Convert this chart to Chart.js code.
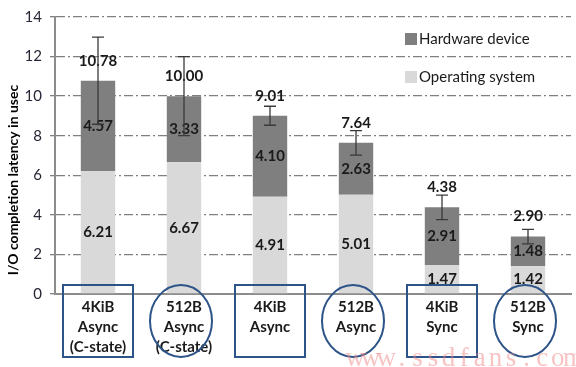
<!DOCTYPE html>
<html>
<head>
<meta charset="utf-8">
<script src="https://cdn.jsdelivr.net/npm/chart.js@4.4.0/dist/chart.umd.min.js"></script>
<style>
  html, body { margin: 0; padding: 0; background: #fff; }
  canvas { display: block; }
</style>
</head>
<body>
<canvas id="latencyChart" width="576" height="367"></canvas>
<script>
// Data
const categories = [
    ['4KiB', 'Async', '(C-state)'],
    ['512B', 'Async', '(C-state)'],
    ['4KiB', 'Async'],
    ['512B', 'Async'],
    ['4KiB', 'Sync'],
    ['512B', 'Sync']
];
const osValues = [6.21, 6.67, 4.91, 5.01, 1.47, 1.42];
const hwValues = [4.57, 3.33, 4.10, 2.63, 2.91, 1.48];
const totals = [10.78, 10.00, 9.01, 7.64, 4.38, 2.90];
const errors = [2.2, 2.0, 0.48, 0.62, 0.62, 0.37];
const yTicks = [0, 2, 4, 6, 8, 10, 12, 14];

const OS_COLOR = '#d9d9d9';
const HW_COLOR = '#7f7f7f';
const TEXT = '#1a1a1a';
const FRAME = '#2c5489';

// Value labels + error bars
const barExtras = {
    id: 'barExtras',
    afterDatasetsDraw(chart) {
        const ctx = chart.ctx;
        const y = chart.scales.y;
        ctx.save();
        ctx.font = 'bold 15px Lato';
        ctx.fillStyle = TEXT;
        ctx.textAlign = 'center';
        ctx.textBaseline = 'middle';
        chart.data.datasets.forEach((ds, di) => {
            chart.getDatasetMeta(di).data.forEach((bar, i) => {
                ctx.fillText(ds.data[i].toFixed(2), bar.x, (bar.y + bar.base) / 2);
            });
        });
        const top = chart.getDatasetMeta(1).data;
        top.forEach((bar, i) => {
            ctx.fillText(totals[i].toFixed(2), bar.x, y.getPixelForValue(totals[i]) - 20);
        });
        // error bars
        ctx.strokeStyle = '#3a3a3a';
        ctx.lineWidth = 1.3;
        top.forEach((bar, i) => {
            const y1 = y.getPixelForValue(totals[i] + errors[i]);
            const y2 = y.getPixelForValue(totals[i] - errors[i]);
            ctx.beginPath();
            ctx.moveTo(bar.x, y1); ctx.lineTo(bar.x, y2);
            ctx.moveTo(bar.x - 6, y1); ctx.lineTo(bar.x + 6, y1);
            ctx.moveTo(bar.x - 6, y2); ctx.lineTo(bar.x + 6, y2);
            ctx.stroke();
        });
        ctx.restore();
    }
};

// Axis title, legend, label frames, watermark
const decorations = {
    id: 'decorations',
    afterDraw(chart) {
        const ctx = chart.ctx;
        const x = chart.scales.x;
        const area = chart.chartArea;
        ctx.save();

        // y title
        ctx.save();
        ctx.translate(13, 180);
        ctx.rotate(-Math.PI / 2);
        ctx.font = 'bold 14px Lato';
        ctx.fillStyle = '#000';
        ctx.textAlign = 'center';
        ctx.textBaseline = 'middle';
        ctx.fillText('I/O completion latency in usec', 0, 0);
        ctx.restore();

        // legend (Hardware on top)
        ctx.font = '15px Lato';
        ctx.textAlign = 'left';
        ctx.textBaseline = 'middle';
        const legendItems = [chart.data.datasets[1], chart.data.datasets[0]];
        legendItems.forEach((ds, k) => {
            const ly = 39 + k * 38;
            ctx.fillStyle = ds.backgroundColor;
            ctx.fillRect(405, ly - 6, 12, 12);
            ctx.fillStyle = TEXT;
            ctx.fillText(ds.label, 419, ly);
        });

        // frames around category labels
        ctx.strokeStyle = FRAME;
        ctx.lineWidth = 2;
        categories.forEach((cat, i) => {
            const cx = x.getPixelForValue(i);
            ctx.beginPath();
            if (cat[0] === '4KiB') {
                ctx.rect(cx - 35, area.bottom - 9, 70, 72);
            } else {
                ctx.ellipse(cx - 3, area.bottom + 27, 31, 36, 0, 0, Math.PI * 2);
            }
            ctx.stroke();
        });

        // watermark
        ctx.fillStyle = 'rgba(240, 135, 135, 0.5)';
        ctx.font = '27px "Liberation Serif"';
        ctx.textAlign = 'center';
        ctx.textBaseline = 'alphabetic';
        const mark = 'www.ssdfans.com';
        for (let k = 0; k < mark.length; k++) {
            ctx.fillText(mark[k], 355 + k * 15.6, 366);
        }
        ctx.restore();
    }
};

const ctx = document.getElementById('latencyChart').getContext('2d');
new Chart(ctx, {
    type: 'bar',
    data: {
        labels: categories,
        datasets: [{
            label: 'Operating system',
            data: osValues,
            backgroundColor: OS_COLOR,
            barPercentage: 0.4,
            categoryPercentage: 1
        }, {
            label: 'Hardware device',
            data: hwValues,
            backgroundColor: HW_COLOR,
            barPercentage: 0.4,
            categoryPercentage: 1
        }]
    },
    options: {
        responsive: false,
        animation: false,
        layout: { padding: { top: 14, right: 5, left: 0, bottom: 0 } },
        plugins: {
            legend: { display: false },
            tooltip: { enabled: false }
        },
        scales: {
            x: {
                stacked: true,
                grid: { display: false, drawTicks: false },
                border: { display: true, color: '#8c8c8c', width: 2 },
                ticks: {
                    color: TEXT,
                    font: { family: 'Lato', size: 15, weight: 'bold', lineHeight: 1.34 },
                    padding: 3,
                    maxRotation: 0,
                    autoSkip: false
                },
                afterFit(scale) { scale.height = 73; }
            },
            y: {
                stacked: true,
                min: 0,
                max: 14,
                afterBuildTicks(scale) { scale.ticks = yTicks.map(v => ({ value: v })); },
                grid: { color: '#7f7f7f', lineWidth: 1.3, tickLength: 5 },
                border: { display: true, color: '#8c8c8c', width: 2, dash: [9, 3, 2, 3] },
                ticks: {
                    color: '#262636',
                    font: { family: 'Lato', size: 15 },
                    padding: 8
                },
                afterFit(scale) { scale.width = 55; }
            }
        }
    },
    plugins: [barExtras, decorations]
});
</script>
</body>
</html>
